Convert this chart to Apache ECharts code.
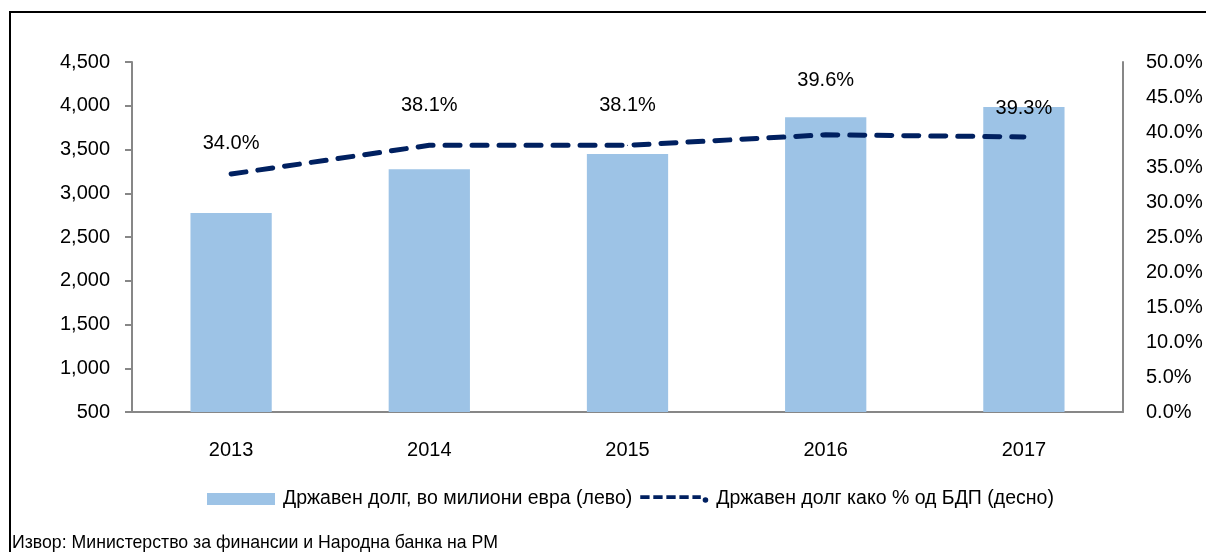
<!DOCTYPE html>
<html>
<head>
<meta charset="utf-8">
<script src="https://cdn.jsdelivr.net/npm/echarts@6/dist/echarts.min.js"></script>
<style>
  html, body { margin: 0; padding: 0; background: #fff; }
  #chart { width: 1206px; height: 552px; }
</style>
</head>
<body>
<div id="chart"></div>
<script>
  // податоци од графиконот
  const years = ["2013", "2014", "2015", "2016", "2017"];
  const debtEur = [2775, 3275, 3450, 3870, 3985];
  const debtPctGdp = [34.0, 38.1, 38.1, 39.6, 39.3];
  const leftTicks = { min: 500, max: 4500, interval: 500 };
  const rightTicks = { min: 0, max: 50, interval: 5 };

  const barName = "Државен долг, во милиони евра (лево)";
  const lineName = "Државен долг како % од БДП (десно)";
  const sourceText = "Извор: Министерство за финансии и Народна банка на РМ";

  const axisFont = "Liberation Sans";

  // растојание на етикетите над линијата (како во оригиналот)
  const labelGaps = [20, 29, 29, 44, 18];

  // иконa за легендата: црти и точка на крајот
  const dashIcon = "path://M0,1h10v4h-10z M14,1h10v4h-10z M28,1h10v4h-10z M42,1h10v4h-10z M56,1h9v4h-9z M70,3a3,3 0 1,1 -0.01,0z";

  const chart = echarts.init(document.getElementById("chart"), null, { renderer: "canvas" });

  const lineData = debtPctGdp.map((v, i) => ({ value: v, label: { distance: labelGaps[i] } }));

  const option = {
    animation: false,
    backgroundColor: "#fff",
    textStyle: { fontFamily: axisFont, color: "#000" },
    grid: { left: 132, right: 83, top: 62, bottom: 140 },
    legend: {
      left: 202,
      top: 484,
      itemWidth: 68,
      itemHeight: 12,
      itemGap: 8,
      textStyle: { fontFamily: axisFont, fontSize: 19.5, color: "#000", padding: [0, 0, 0, 3] },
      data: [
        { name: barName, icon: "rect" },
        { name: lineName, icon: dashIcon, itemStyle: { color: "#002060" } }
      ]
    },
    xAxis: {
      type: "category",
      data: years,
      axisLine: { lineStyle: { color: "#878787", width: 2 } },
      axisTick: { show: false },
      axisLabel: { fontSize: 20, color: "#000", margin: 28 }
    },
    yAxis: [
      {
        type: "value",
        min: leftTicks.min,
        max: leftTicks.max,
        interval: leftTicks.interval,
        axisLine: { show: true, lineStyle: { color: "#878787", width: 2 } },
        axisTick: { show: true, length: 7, lineStyle: { color: "#878787", width: 2 } },
        splitLine: { show: false },
        axisLabel: {
          fontSize: 20,
          color: "#000",
          margin: 22,
          formatter: (v) => v.toLocaleString("en-US")
        }
      },
      {
        type: "value",
        min: rightTicks.min,
        max: rightTicks.max,
        interval: rightTicks.interval,
        position: "right",
        axisLine: { show: true, lineStyle: { color: "#878787", width: 2 } },
        axisTick: { show: false },
        splitLine: { show: false },
        axisLabel: {
          fontSize: 20,
          color: "#000",
          margin: 23,
          formatter: (v) => v.toFixed(1) + "%"
        }
      }
    ],
    series: [
      {
        name: barName,
        type: "bar",
        yAxisIndex: 0,
        data: debtEur,
        barWidth: "41%",
        itemStyle: { color: "#9DC3E6" }
      },
      {
        name: lineName,
        type: "line",
        yAxisIndex: 1,
        data: lineData,
        symbol: "circle",
        symbolSize: 1,
        z: 5,
        lineStyle: { color: "#002060", width: 5, type: [15, 12], cap: "round" },
        itemStyle: { color: "#002060" },
        label: {
          show: true,
          position: "top",
          fontSize: 20,
          color: "#000",
          formatter: (p) => p.value.toFixed(1) + "%"
        }
      }
    ],
    graphic: [
      {
        type: "polyline",
        shape: { points: [[10, 560], [10, 12], [1220, 12]] },
        style: { stroke: "#000", lineWidth: 2, fill: null },
        silent: true
      },
      {
        type: "text",
        left: 12,
        top: 534,
        style: { text: sourceText, font: "17.7px " + axisFont, fill: "#000" }
      }
    ]
  };

  chart.setOption(option);
  window.addEventListener("resize", () => chart.resize());
</script>
</body>
</html>
